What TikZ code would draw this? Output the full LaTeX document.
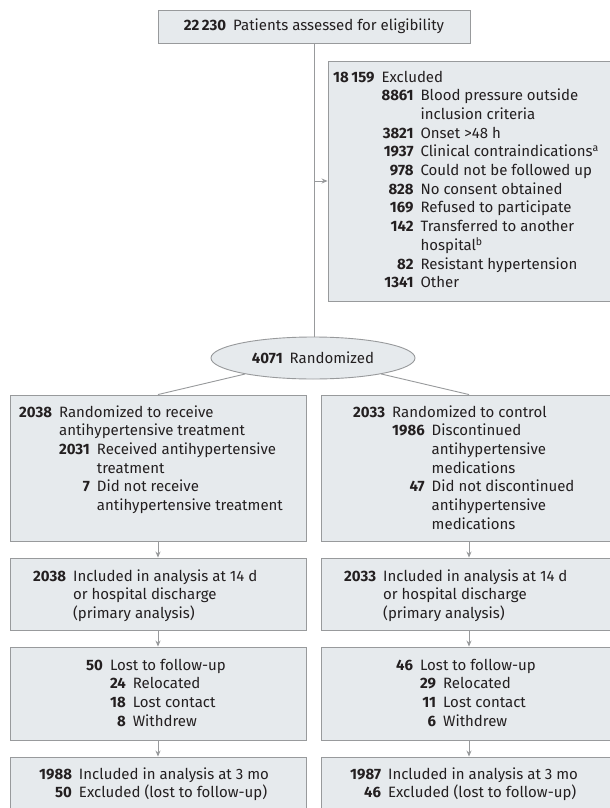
\documentclass[tikz,border=0pt]{standalone}
\usepackage{fontspec}
\setmainfont{Fira Sans}
\usetikzlibrary{shapes.geometric}
\usetikzlibrary{arrows.meta}
\usetikzlibrary{positioning}
\definecolor{boxfill}{RGB}{230,234,237}
\definecolor{boxline}{RGB}{152,154,156}
\definecolor{txtcol}{RGB}{35,31,32}
\newcommand{\cnt}[1]{\textbf{#1}}
\newcommand{\gp}{\hspace{7pt}}

\begin{document}
\begin{tikzpicture}[x=1pt,y=-1pt,font=\fontsize{15}{18.7}\selectfont,
  box/.style={draw=boxline,fill=boxfill,line width=0.9pt,rectangle,inner sep=0pt,text=txtcol},
  txt/.style={anchor=base west,inner sep=0pt,text=txtcol,align=left},
  conn/.style={draw=boxline,line width=0.9pt},
  arr/.style={conn,-{Stealth[length=6pt,width=5pt]}}]
\useasboundingbox (0,0) rectangle (610,808);
\clip (0,0) rectangle (610,808);
\fill[white] (0,0) rectangle (610,808);

% boxes
\node[box,minimum width=312pt,minimum height=33pt] (assess) at (314,26.5)
  {\cnt{22\,230}\gp Patients assessed for eligibility};
\node[box,minimum width=312pt,minimum height=240pt] (excl) at (484,181) {};
\node[box,ellipse,minimum width=204pt,minimum height=42pt] (rand) at (313,358)
  {\cnt{4071}\gp Randomized};
\node[box,minimum width=296pt,minimum height=146pt] (treat) at (158,468) {};
\node[box,minimum width=296pt,minimum height=146pt] (ctrl) at (469,468) {};
\node[box,minimum width=296pt,minimum height=72pt] (anaL) at (158,594) {};
\node[box,minimum width=296pt,minimum height=72pt] (anaR) at (469,594) {};
\node[box,minimum width=296pt,minimum height=93pt] (lostL) at (158,693.5) {};
\node[box,minimum width=296pt,minimum height=93pt] (lostR) at (469,693.5) {};
\node[box,minimum width=296pt,minimum height=73pt] (finL) at (158,793.5) {};
\node[box,minimum width=296pt,minimum height=73pt] (finR) at (469,793.5) {};

% texts
\node[txt] (t-excl) at (333,82) {\begin{tabular}[t]{@{}r@{\gp}r@{\gp}l@{}}
\cnt{18\,159} & \multicolumn{2}{@{}l@{}}{Excluded}\\
 & \cnt{8861} & Blood pressure outside\\
 & & inclusion criteria\\
 & \cnt{3821} & Onset >48 h\\
 & \cnt{1937} & Clinical contraindications\textsuperscript{a}\\
 & \cnt{978} & Could not be followed up\\
 & \cnt{828} & No consent obtained\\
 & \cnt{169} & Refused to participate\\
 & \cnt{142} & Transferred to another\\
 & & hospital\textsuperscript{b}\\
 & \cnt{82} & Resistant hypertension\\
 & \cnt{1341} & Other
\end{tabular}};
\node[txt] (t-treat) at (19,417) {\begin{tabular}[t]{@{}r@{\gp}r@{\gp}l@{}}
\cnt{2038} & \multicolumn{2}{@{}l@{}}{Randomized to receive}\\
 & \multicolumn{2}{@{}l@{}}{antihypertensive treatment}\\
 & \cnt{2031} & Received antihypertensive\\
 & & treatment\\
 & \cnt{7} & Did not receive\\
 & & antihypertensive treatment
\end{tabular}};
\node[txt] (t-ctrl) at (353,417) {\begin{tabular}[t]{@{}r@{\gp}r@{\gp}l@{}}
\cnt{2033} & \multicolumn{2}{@{}l@{}}{Randomized to control}\\
 & \cnt{1986} & Discontinued\\
 & & antihypertensive\\
 & & medications\\
 & \cnt{47} & Did not discontinued\\
 & & antihypertensive\\
 & & medications
\end{tabular}};
\node[txt] (t-anaL) at (33,581) {\begin{tabular}[t]{@{}r@{\gp}l@{}}
\cnt{2038} & Included in analysis at 14 d\\
 & or hospital discharge\\
 & (primary analysis)
\end{tabular}};
\node[txt] (t-anaR) at (344,581) {\begin{tabular}[t]{@{}r@{\gp}l@{}}
\cnt{2033} & Included in analysis at 14 d\\
 & or hospital discharge\\
 & (primary analysis)
\end{tabular}};
\node[txt] (t-lostL) at (86,670) {\begin{tabular}[t]{@{}r@{\gp}r@{\gp}l@{}}
\cnt{50} & \multicolumn{2}{@{}l@{}}{Lost to follow-up}\\
 & \cnt{24} & Relocated\\
 & \cnt{18} & Lost contact\\
 & \cnt{8} & Withdrew
\end{tabular}};
\node[txt] (t-lostR) at (396,670) {\begin{tabular}[t]{@{}r@{\gp}r@{\gp}l@{}}
\cnt{46} & \multicolumn{2}{@{}l@{}}{Lost to follow-up}\\
 & \cnt{29} & Relocated\\
 & \cnt{11} & Lost contact\\
 & \cnt{6} & Withdrew
\end{tabular}};
\node[txt] (t-finL) at (39,779) {\begin{tabular}[t]{@{}r@{\gp}l@{}}
\cnt{1988} & Included in analysis at 3 mo\\
\cnt{50} & Excluded (lost to follow-up)
\end{tabular}};
\node[txt] (t-finR) at (350,779) {\begin{tabular}[t]{@{}r@{\gp}l@{}}
\cnt{1987} & Included in analysis at 3 mo\\
\cnt{46} & Excluded (lost to follow-up)
\end{tabular}};

% connectors
\coordinate (split) at (assess.south |- excl.west);
\draw[conn] (assess.south) -- (assess.south |- rand.north);
\draw[arr] (split) -- (excl.west);
\draw[conn] (rand) -- (treat.north);
\draw[conn] (rand) -- (ctrl.north);
\draw[arr] (treat) -- (anaL);
\draw[arr] (ctrl) -- (anaR);
\draw[arr] (anaL) -- (lostL);
\draw[arr] (anaR) -- (lostR);
\draw[arr] (lostL) -- (finL);
\draw[arr] (lostR) -- (finR);
\end{tikzpicture}
\end{document}
